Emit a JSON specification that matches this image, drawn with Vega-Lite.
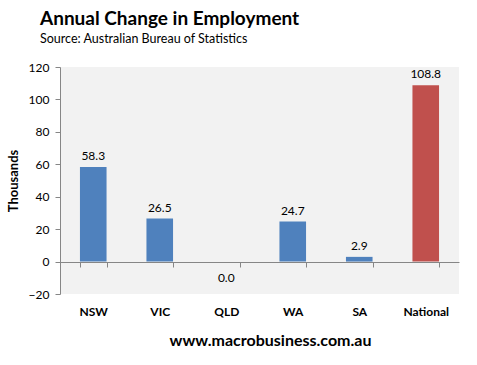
{
  "$schema": "https://vega.github.io/schema/vega-lite/v6.json",
  "width": 399,
  "height": 227,
  "autosize": {"type": "none"},
  "padding": {"left": 60, "top": 67, "right": 18, "bottom": 71},
  "background": "white",
  "title": {
    "text": "Annual Change in Employment",
    "subtitle": "Source:  Australian Bureau of Statistics",
    "anchor": "start",
    "frame": "group",
    "dx": -20,
    "font": "Lato",
    "fontSize": 19,
    "fontWeight": "bold",
    "color": "black",
    "subtitleFont": "Lato",
    "subtitleFontSize": 12.5,
    "subtitleColor": "black",
    "subtitlePadding": 4,
    "offset": 16
  },
  "config": {"view": {"fill": "#f2f2f2", "stroke": null}},
  "data": {
    "values": [
      {"region": "NSW", "value": 58.3, "type": "state"},
      {"region": "VIC", "value": 26.5, "type": "state"},
      {"region": "QLD", "value": 0.0, "type": "state"},
      {"region": "WA", "value": 24.7, "type": "state"},
      {"region": "SA", "value": 2.9, "type": "state"},
      {"region": "National", "value": 108.8, "type": "national"}
    ]
  },
  "encoding": {
    "x": {
      "field": "region",
      "type": "nominal",
      "sort": null,
      "scale": {"paddingInner": 0.6, "paddingOuter": 0.3},
      "axis": {
        "title": "www.macrobusiness.com.au",
        "titleFont": "Lato",
        "titleFontSize": 16,
        "titleFontWeight": "bold",
        "titleColor": "black",
        "titlePadding": 15,
        "titleX": 210,
        "labelAngle": 0,
        "labelFont": "Lato",
        "labelFontSize": 12,
        "labelFontWeight": "bold",
        "labelColor": "black",
        "labelPadding": 39,
        "offset": -32,
        "domainColor": "#868686",
        "ticks": true,
        "tickColor": "#868686",
        "tickWidth": 1,
        "tickSize": 5,
        "tickBand": "extent"
      }
    },
    "y": {
      "field": "value",
      "type": "quantitative",
      "scale": {"domain": [-20, 120], "nice": false},
      "axis": {
        "title": "Thousands",
        "titleFont": "Lato",
        "titleFontSize": 13,
        "titleFontWeight": "bold",
        "titleColor": "black",
        "titlePadding": 8,
        "values": [-20, 0, 20, 40, 60, 80, 100, 120],
        "grid": false,
        "labelFont": "Lato",
        "labelFontSize": 12,
        "labelColor": "black",
        "labelPadding": 6,
        "tickSize": 5,
        "tickColor": "#868686",
        "domainColor": "#868686"
      }
    }
  },
  "layer": [
    {
      "mark": {"type": "bar"},
      "encoding": {
        "color": {
          "field": "type",
          "type": "nominal",
          "scale": {"domain": ["state", "national"], "range": ["#4f81bd", "#c0504d"]},
          "legend": null
        }
      }
    },
    {
      "transform": [{"filter": "datum.value > 0"}],
      "mark": {"type": "text", "font": "Lato", "fontSize": 12, "color": "black", "baseline": "middle", "dy": -11},
      "encoding": {
        "text": {"field": "value", "type": "quantitative", "format": ".1f"}
      }
    },
    {
      "transform": [{"filter": "datum.value <= 0"}],
      "mark": {"type": "text", "font": "Lato", "fontSize": 12, "color": "black", "baseline": "middle", "dy": 16},
      "encoding": {
        "text": {"field": "value", "type": "quantitative", "format": ".1f"}
      }
    }
  ]
}
